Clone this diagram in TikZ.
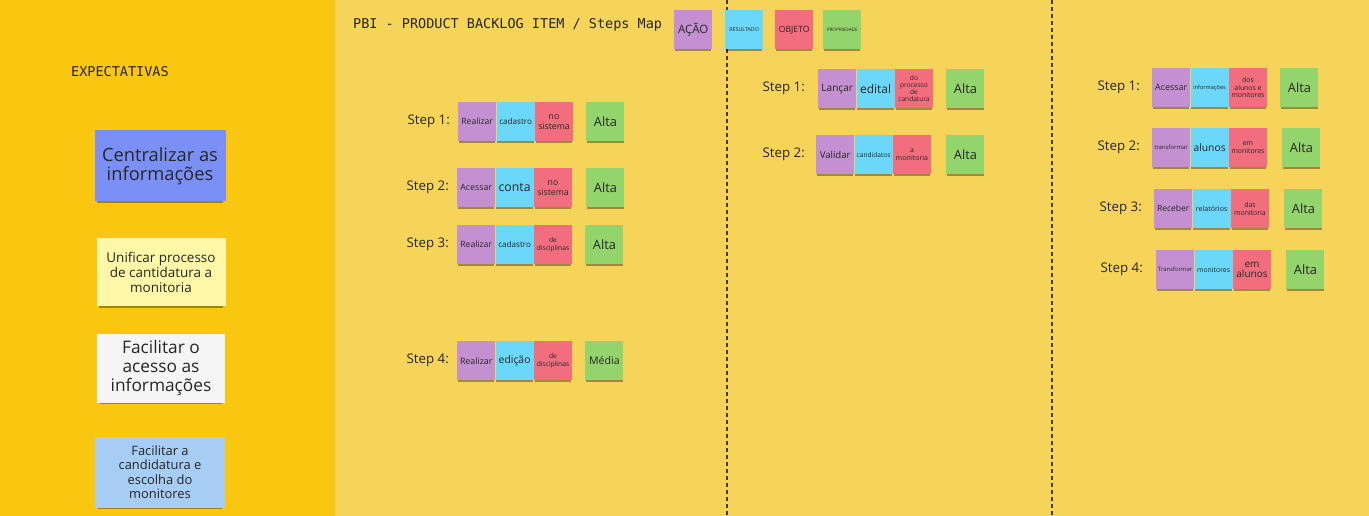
\documentclass[tikz,border=0pt]{standalone}
\usepackage{fontspec}
\setmainfont{Open Sans}
\setmonofont{DejaVu Sans Mono}
\usetikzlibrary{positioning,shadows}

\definecolor{frameyel}{HTML}{FAC710}
\definecolor{boardyel}{HTML}{F6D45A}
\definecolor{cacao}{HTML}{C490D1}
\definecolor{cres}{HTML}{6BD8FA}
\definecolor{cobj}{HTML}{F26E7E}
\definecolor{cprop}{HTML}{93D46D}
\definecolor{cviolet}{HTML}{7B90F6}
\definecolor{clyellow}{HTML}{FFF7A8}
\definecolor{cgray}{HTML}{F5F5F5}
\definecolor{clblue}{HTML}{A8CDF4}
\definecolor{notetext}{HTML}{262626}
\definecolor{sepline}{HTML}{4A3B14}

\newcommand{\fsz}[2]{\fontsize{#1pt}{#2pt}\selectfont}

\begin{document}
\begin{tikzpicture}[x=1pt,y=-1pt,node distance=0pt,
                    note/.style={rectangle,minimum width=38pt,minimum height=39pt,
                      inner sep=1pt,align=center,text=notetext,
                      drop shadow={shadow xshift=0pt,shadow yshift=-3pt,
                        shadow scale=0.96,opacity=0.35,fill=black}}]
  \tikzstyle{acaonote}=[note,fill=cacao]
  \tikzstyle{resnote}=[note,fill=cres]
  \tikzstyle{objnote}=[note,fill=cobj]
  \tikzstyle{propnote}=[note,fill=cprop,font=\fsz{12.8}{14}]
  \tikzstyle{bignote}=[note,minimum width=130pt,minimum height=70pt]
  \tikzstyle{steplabel}=[inner sep=0pt,text=notetext,font=\fsz{13.3}{15}]
  \tikzstyle{monotitle}=[inner sep=0pt,anchor=west,text=notetext,font=\ttfamily\fsz{13.5}{15}]

  \useasboundingbox (0,0) rectangle (1369,516);
  \fill[frameyel] (0,0) rectangle (335,516);
  \fill[boardyel] (335,0) rectangle (1369,516);

  % separators
  \draw[sepline,line width=1.2pt,dash pattern=on 4pt off 3pt] (727,0) -- (727,516);
  \draw[sepline,line width=1.2pt,dash pattern=on 4pt off 3pt] (1052,0) -- (1052,516);

  % titles
  \node[monotitle] (title) at (353,25) {PBI - PRODUCT BACKLOG ITEM / Steps Map};
  \node[monotitle] (expect) at (71,72) {EXPECTATIVAS};

  % legend
  \node[acaonote,anchor=north west,font=\fsz{11.5}{12}] (lacao) at (674,10) {AÇÃO};
  \node[resnote,anchor=north west,font=\fsz{5.3}{6}]    (lres)  at (725,10) {RESULTADO};
  \node[objnote,anchor=north west,font=\fsz{8.6}{9}]    (lobj)  at (775,10) {OBJETO};
  \node[propnote,anchor=north west,font=\fsz{4.6}{5}]   (lprop) at (823,10) {PROPRIEDADE};

  % expectativas
  \node[bignote,fill=cviolet,minimum width=131pt,minimum height=71pt,font=\fsz{18.3}{19.5}]
       (exp1) at (160,166) {Centralizar as\\informações};
  \node[bignote,fill=clyellow,minimum width=129pt,minimum height=68pt,font=\fsz{13.5}{15}]
       (exp2) at (161,272) {Unificar processo\\de cantidatura a\\monitoria};
  \node[bignote,fill=cgray,minimum width=128pt,minimum height=69pt,font=\fsz{17.3}{19}]
       (exp3) at (161,368) {Facilitar o\\acesso as\\informações};
  \node[bignote,fill=clblue,minimum width=130pt,minimum height=71pt,font=\fsz{12.9}{14.5}]
       (exp4) at (160,472) {Facilitar a\\candidatura e\\escolha do\\monitores};

  % column 1
  \node[acaonote,anchor=north west,font=\fsz{8.6}{10}] (a11) at (458,102) {Realizar};
  \node[resnote,right=of a11,font=\fsz{8.1}{10}]       (r11) {cadastro};
  \node[objnote,right=of r11,font=\fsz{8.7}{10}]       (o11) {no\\sistema};
  \node[propnote,right=13pt of o11]                    (p11) {Alta};
  \node[steplabel,left=8pt of a11]                     (s11) {Step 1:};

  \node[acaonote,anchor=north west,font=\fsz{8.8}{10}] (a12) at (457,168) {Acessar};
  \node[resnote,right=of a12,font=\fsz{12.3}{13}]      (r12) {conta};
  \node[objnote,right=of r12,font=\fsz{8.7}{10}]       (o12) {no\\sistema};
  \node[propnote,right=14pt of o12]                    (p12) {Alta};
  \node[steplabel,left=8pt of a12]                     (s12) {Step 2:};

  \node[acaonote,anchor=north west,font=\fsz{8.6}{10}] (a13) at (457,225) {Realizar};
  \node[resnote,right=of a13,font=\fsz{8.1}{10}]       (r13) {cadastro};
  \node[objnote,right=of r13,font=\fsz{6.7}{7.8}]      (o13) {de\\disciplinas};
  \node[propnote,right=13pt of o13]                    (p13) {Alta};
  \node[steplabel,left=8pt of a13]                     (s13) {Step 3:};

  \node[acaonote,anchor=north west,font=\fsz{8.8}{10}] (a14) at (457,341) {Realizar};
  \node[resnote,right=of a14,font=\fsz{10.4}{12}]      (r14) {edição};
  \node[objnote,right=of r14,font=\fsz{6.7}{7.8}]      (o14) {de\\disciplinas};
  \node[propnote,right=13pt of o14,font=\fsz{10.6}{12}] (p14) {Média};
  \node[steplabel,left=8pt of a14]                     (s14) {Step 4:};

  % column 2
  \node[acaonote,anchor=north west,font=\fsz{10.1}{11}] (a21) at (818,69) {Lançar};
  \node[resnote,right=of a21,font=\fsz{11.9}{13}]       (r21) {edital};
  \node[objnote,right=of r21,font=\fsz{6.6}{7.1}]       (o21) {do\\processo\\de\\candatura};
  \node[propnote,right=13pt of o21]                     (p21) {Alta};
  \node[steplabel,left=13pt of a21]                     (s21) {Step 1:};

  \node[acaonote,anchor=north west,font=\fsz{9.6}{11}] (a22) at (816,135) {Validar};
  \node[resnote,right=of a22,font=\fsz{6.6}{7.5}]      (r22) {candidatos};
  \node[objnote,right=of r22,font=\fsz{7}{8}]          (o22) {a\\monitoria};
  \node[propnote,right=15pt of o22]                    (p22) {Alta};
  \node[steplabel,left=11pt of a22]                    (s22) {Step 2:};

  % column 3
  \node[acaonote,anchor=north west,font=\fsz{8.9}{10}] (a31) at (1152,68) {Acessar};
  \node[resnote,right=of a31,font=\fsz{5.6}{6.5}]      (r31) {informações};
  \node[objnote,right=of r31,font=\fsz{6.9}{7.5}]      (o31) {dos\\alunos e\\monitores};
  \node[propnote,right=13pt of o31]                    (p31) {Alta};
  \node[steplabel,left=12pt of a31]                    (s31) {Step 1:};

  \node[acaonote,anchor=north west,font=\fsz{5.9}{7}] (a32) at (1152,128) {transformar};
  \node[resnote,right=of a32,font=\fsz{10.3}{11}]     (r32) {alunos};
  \node[objnote,right=of r32,font=\fsz{6.9}{7.8}]     (o32) {em\\monitores};
  \node[propnote,right=15pt of o32]                   (p32) {Alta};
  \node[steplabel,left=12pt of a32]                   (s32) {Step 2:};

  \node[acaonote,anchor=north west,font=\fsz{8.5}{10}] (a33) at (1154,189) {Receber};
  \node[resnote,right=of a33,font=\fsz{7.1}{8}]        (r33) {relatórios};
  \node[objnote,right=of r33,font=\fsz{6.9}{7.8}]      (o33) {das\\monitoria};
  \node[propnote,right=15pt of o33]                    (p33) {Alta};
  \node[steplabel,left=12pt of a33]                    (s33) {Step 3:};

  \node[acaonote,anchor=north west,font=\fsz{5.9}{7}] (a34) at (1156,250) {Transformar};
  \node[resnote,right=of a34,font=\fsz{6.9}{7.8}]     (r34) {monitores};
  \node[objnote,right=of r34,font=\fsz{10}{10.5}]     (o34) {em\\alunos};
  \node[propnote,right=15pt of o34]                   (p34) {Alta};
  \node[steplabel,left=13pt of a34]                   (s34) {Step 4:};
\end{tikzpicture}
\end{document}
